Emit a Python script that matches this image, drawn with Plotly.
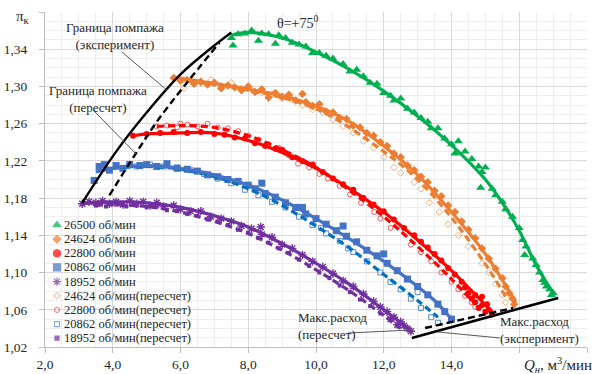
import plotly.graph_objects as go

# ---------------- data ----------------
# 26500 rpm, experiment
g_x = [7.5, 7.55, 7.7, 7.9, 8.1, 8.3, 8.4, 8.6, 8.8, 8.9, 9.1, 9.3, 9.5, 9.7, 9.9, 10.1, 10.3, 10.5, 10.8, 11.0,
       11.2, 11.4, 11.6, 11.8, 12.0, 12.2, 12.3, 12.5, 12.7, 12.9, 13.1, 13.3, 13.4, 13.6, 13.8, 14.0, 14.1, 14.2,
       14.4, 14.6, 14.8, 14.86, 14.9, 15.0, 15.2, 15.3, 15.5, 15.6, 15.8, 16.0, 16.1, 16.16, 16.2, 16.4, 16.5,
       16.6, 16.7, 16.8, 16.9, 16.95, 16.75, 17.0]
g_y = [1.352, 1.344, 1.356, 1.357, 1.360, 1.349, 1.357, 1.356, 1.346, 1.355, 1.352, 1.347, 1.345, 1.343, 1.336,
       1.336, 1.333, 1.330, 1.324, 1.316, 1.318, 1.311, 1.304, 1.303, 1.293, 1.290, 1.285, 1.287, 1.276, 1.272,
       1.266, 1.262, 1.255, 1.255, 1.244, 1.238, 1.228, 1.241, 1.230, 1.222, 1.214, 1.191, 1.208, 1.213, 1.190,
       1.183, 1.176, 1.168, 1.160, 1.148, 1.135, 1.119, 1.128, 1.115, 1.108, 1.100, 1.092, 1.085, 1.082, 1.076,
       1.089, 1.078]
g_fit_x = [7.5, 8.0, 9.0, 10.0, 11.0, 12.0, 13.0, 14.0, 15.0, 15.5, 16.0, 16.5, 17.0]
g_fit_y = [1.355, 1.358, 1.352, 1.337, 1.318, 1.295, 1.268, 1.237, 1.200, 1.175, 1.145, 1.108, 1.078]

# 24624 rpm, experiment
o_x = [5.8, 6.0, 6.2, 6.4, 6.6, 6.8, 7.0, 7.2, 7.4, 7.6, 7.8, 8.0, 8.2, 8.4, 8.6, 8.8, 9.0, 9.2, 9.4, 9.6, 9.7,
       9.9, 10.1, 10.3, 10.5, 10.7, 10.9, 11.1, 11.3, 11.5, 11.7, 11.9, 12.1, 12.3, 12.5, 12.7, 12.9, 13.1, 13.3,
       13.5, 13.7, 13.9, 14.1, 14.3, 14.5, 14.7, 14.9, 15.1, 15.3, 15.5, 15.6, 15.7, 15.8, 15.85]
o_y = [1.309, 1.306, 1.307, 1.303, 1.305, 1.302, 1.304, 1.298, 1.301, 1.299, 1.296, 1.300, 1.294, 1.297, 1.288,
       1.293, 1.289, 1.291, 1.285, 1.292, 1.283, 1.279, 1.281, 1.273, 1.272, 1.266, 1.265, 1.258, 1.256, 1.250,
       1.247, 1.240, 1.236, 1.228, 1.224, 1.215, 1.210, 1.203, 1.197, 1.188, 1.182, 1.172, 1.165, 1.155, 1.146,
       1.137, 1.126, 1.115, 1.104, 1.094, 1.085, 1.078, 1.072, 1.066]
o_fit_x = [5.8, 6.5, 7.0, 8.0, 9.0, 10.0, 11.0, 12.0, 13.0, 14.0, 15.0, 15.5, 15.9]
o_fit_y = [1.310, 1.306, 1.303, 1.297, 1.290, 1.279, 1.262, 1.236, 1.205, 1.165, 1.120, 1.092, 1.068]

# 24624 rpm, recalculated
or_x = [6.1, 6.3, 6.6, 6.9, 7.2, 7.5, 7.8, 8.1, 8.4, 8.7, 9.0, 9.3, 9.6, 9.9, 10.2, 10.5, 10.8, 11.1, 11.4,
        11.7, 12.0, 12.3, 12.5, 12.9, 13.1, 13.35, 13.64, 13.9, 14.2, 14.5, 14.9, 15.1, 15.3, 15.5, 15.6]
or_y = [1.298, 1.306, 1.304, 1.307, 1.301, 1.304, 1.298, 1.296, 1.293, 1.292, 1.287, 1.286, 1.280, 1.275, 1.272,
        1.264, 1.257, 1.250, 1.241, 1.234, 1.224, 1.213, 1.207, 1.197, 1.190, 1.175, 1.165, 1.152, 1.140, 1.128,
        1.110, 1.100, 1.088, 1.076, 1.068]
or_fit_x = [6.2, 8.0, 10.0, 12.0, 13.0, 14.0, 15.0, 15.6]
or_fit_y = [1.306, 1.296, 1.276, 1.230, 1.200, 1.159, 1.109, 1.074]

# 22800 rpm, experiment
r_x = [4.6, 5.0, 5.4, 5.8, 6.2, 6.6, 7.0, 7.3, 7.6, 7.9, 8.2, 8.5, 8.8, 9.0, 9.3, 9.6, 9.9, 10.2, 10.5, 10.8,
       11.1, 11.4, 11.7, 12.0, 12.3, 12.6, 12.9, 13.1, 13.3, 13.5, 13.7, 13.9, 14.1, 14.3, 14.4, 14.5, 14.6, 14.7,
       14.8, 14.9, 15.0, 15.1, 15.2, 14.9, 14.7, 15.05]
r_y = [1.247, 1.249, 1.250, 1.251, 1.250, 1.251, 1.249, 1.248, 1.245, 1.244, 1.239, 1.236, 1.233, 1.232, 1.224,
       1.220, 1.216, 1.208, 1.201, 1.195, 1.189, 1.180, 1.173, 1.166, 1.157, 1.148, 1.140, 1.133, 1.127, 1.120,
       1.113, 1.105, 1.098, 1.090, 1.084, 1.078, 1.072, 1.068, 1.062, 1.065, 1.058, 1.060, 1.055, 1.074, 1.076,
       1.066]
r_fit_x = [4.6, 5.0, 6.0, 7.0, 8.0, 9.0, 10.0, 11.0, 12.0, 13.0, 14.0, 14.6, 15.2]
r_fit_y = [1.247, 1.249, 1.250, 1.250, 1.242, 1.229, 1.212, 1.190, 1.165, 1.135, 1.102, 1.080, 1.058]

# 22800 rpm, recalculated
rr_x = [5.3, 5.6, 5.9, 6.0, 6.2, 6.5, 6.8, 7.1, 7.4, 7.7, 8.0, 8.3, 8.6, 8.9, 9.2, 9.47, 9.8, 10.1, 10.35, 10.7,
        11.0, 11.33, 11.72, 11.9, 12.2, 12.43, 12.8, 13.1, 13.4, 13.7, 14.0, 14.2, 14.4, 14.6, 14.7]
rr_y = [1.257, 1.258, 1.256, 1.260, 1.259, 1.257, 1.260, 1.256, 1.255, 1.252, 1.247, 1.243, 1.238, 1.234, 1.226,
        1.217, 1.213, 1.206, 1.201, 1.193, 1.184, 1.175, 1.165, 1.158, 1.148, 1.151, 1.130, 1.122, 1.112, 1.100,
        1.090, 1.082, 1.075, 1.068, 1.063]
rr_fit_x = [5.3, 6.0, 7.0, 8.0, 9.0, 10.0, 11.0, 12.0, 13.0, 14.0, 14.7]
rr_fit_y = [1.257, 1.258, 1.256, 1.247, 1.232, 1.213, 1.188, 1.160, 1.128, 1.093, 1.066]

# 20862 rpm, experiment
b_x = [3.45, 3.6, 3.75, 3.9, 4.1, 4.3, 4.5, 4.8, 5.0, 5.3, 5.6, 5.9, 6.2, 6.5, 6.8, 7.1, 7.4, 7.7, 8.0, 8.2,
       8.4, 8.5, 8.8, 9.1, 9.4, 9.6, 9.7, 10.0, 10.3, 10.6, 10.8, 10.9, 11.2, 11.5, 11.8, 12.0, 12.1, 12.4, 12.7,
       13.0, 13.3, 13.6, 13.8, 14.0]
b_y = [1.199, 1.214, 1.216, 1.210, 1.215, 1.212, 1.216, 1.215, 1.216, 1.214, 1.217, 1.212, 1.211, 1.209, 1.205,
       1.203, 1.200, 1.198, 1.194, 1.190, 1.196, 1.185, 1.181, 1.175, 1.170, 1.170, 1.163, 1.158, 1.152, 1.145,
       1.150, 1.139, 1.133, 1.124, 1.118, 1.120, 1.110, 1.102, 1.093, 1.085, 1.076, 1.066, 1.058, 1.050]
b_fit_x = [3.5, 4.0, 5.0, 6.0, 7.0, 8.0, 9.0, 10.0, 11.0, 12.0, 13.0, 13.5, 14.0]
b_fit_y = [1.208, 1.212, 1.215, 1.212, 1.205, 1.194, 1.178, 1.158, 1.136, 1.112, 1.085, 1.070, 1.050]

# 20862 rpm, recalculated
br_x = [4.3, 4.7, 5.1, 5.5, 5.9, 6.3, 6.7, 7.1, 7.5, 7.9, 8.3, 8.7, 9.1, 9.5, 9.9, 10.15, 10.3, 10.7, 10.95,
        11.1, 11.5, 11.9, 12.2, 12.5, 12.8, 13.0, 13.1, 13.4, 13.6]
br_y = [1.212, 1.214, 1.216, 1.214, 1.213, 1.210, 1.206, 1.201, 1.196, 1.189, 1.183, 1.176, 1.170, 1.160, 1.151,
        1.148, 1.142, 1.134, 1.126, 1.122, 1.112, 1.100, 1.090, 1.082, 1.072, 1.079, 1.062, 1.052, 1.046]
br_fit_x = [4.0, 5.0, 6.0, 7.0, 8.0, 9.0, 10.0, 11.0, 12.0, 13.0, 13.6]
br_fit_y = [1.212, 1.214, 1.211, 1.203, 1.190, 1.172, 1.150, 1.126, 1.098, 1.070, 1.052]

# 18952 rpm, experiment
p_x = [3.1, 3.3, 3.5, 3.7, 3.9, 4.1, 4.3, 4.5, 4.7, 4.9, 5.1, 5.3, 5.5, 5.8, 6.0, 6.3, 6.6, 6.9, 7.2, 7.5, 7.8,
       8.1, 8.37, 8.4, 8.7, 9.0, 9.3, 9.6, 9.9, 10.2, 10.5, 10.8, 11.1, 11.4, 11.7, 11.9, 12.1, 12.2, 12.3, 12.4,
       12.5, 12.6, 12.7, 12.8]
p_y = [1.174, 1.176, 1.175, 1.177, 1.174, 1.176, 1.173, 1.177, 1.174, 1.176, 1.172, 1.175, 1.171, 1.172, 1.168,
       1.166, 1.166, 1.160, 1.158, 1.155, 1.150, 1.147, 1.149, 1.141, 1.138, 1.130, 1.126, 1.119, 1.112, 1.106,
       1.099, 1.091, 1.085, 1.077, 1.069, 1.063, 1.058, 1.050, 1.052, 1.044, 1.047, 1.043, 1.040, 1.037]
p_fit_x = [3.1, 4.0, 5.0, 6.0, 7.0, 8.0, 9.0, 10.0, 11.0, 12.0, 12.8]
p_fit_y = [1.174, 1.176, 1.175, 1.170, 1.161, 1.149, 1.131, 1.110, 1.087, 1.060, 1.038]

# 18952 rpm, recalculated
pr_x = [3.5, 3.8, 4.1, 4.4, 4.7, 5.0, 5.3, 5.6, 5.9, 6.2, 6.5, 6.8, 7.1, 7.4, 7.7, 8.0, 8.3, 8.6, 8.9, 9.2, 9.5,
        9.8, 10.1, 10.4, 10.7, 11.0, 11.3, 11.6, 11.9, 12.2, 12.4]
pr_y = [1.172, 1.171, 1.173, 1.171, 1.172, 1.170, 1.171, 1.167, 1.166, 1.163, 1.161, 1.157, 1.155, 1.151, 1.146,
        1.143, 1.137, 1.132, 1.126, 1.121, 1.114, 1.107, 1.100, 1.094, 1.086, 1.079, 1.071, 1.064, 1.056, 1.049,
        1.043]
pr_fit_x = [3.5, 4.0, 5.0, 6.0, 7.0, 8.0, 9.0, 10.0, 11.0, 12.0, 12.5]
pr_fit_y = [1.172, 1.173, 1.171, 1.165, 1.155, 1.142, 1.124, 1.103, 1.080, 1.054, 1.040]

# boundaries
surge_exp_x = [3.1, 4.1, 5.0, 6.0, 7.0, 7.5]
surge_exp_y = [1.175, 1.230, 1.272, 1.313, 1.344, 1.358]
surge_rec_x = [3.9, 4.7, 5.3, 6.1, 7.15]
surge_rec_y = [1.183, 1.229, 1.262, 1.300, 1.347]
maxf_exp_x = [12.83, 17.15]
maxf_exp_y = [1.0297, 1.0727]
maxf_rec_x = [13.22, 15.82]
maxf_rec_y = [1.0404, 1.062]

legend_labels = ["26500 об/мин", "24624 об/мин", "22800 об/мин", "20862 об/мин", "18952 об/мин",
                 "24624 об/мин(пересчет)", "22800 об/мин(пересчет)", "20862 об/мин(пересчет)",
                 "18952 об/мин(пересчет)"]

x_ticks = [2, 4, 6, 8, 10, 12, 14, 16, 18]
x_ticktext = ["2,0", "4,0", "6,0", "8,0", "10,0", "12,0", "14,0", " ", " "]
y_ticks = [1.02, 1.06, 1.10, 1.14, 1.18, 1.22, 1.26, 1.30, 1.34, 1.38]
y_ticktext = ["1,02", "1,06", "1,10", "1,14", "1,18", "1,22", "1,26", "1,30", "1,34", " "]

# ---------------- styles ----------------
GREEN, ORANGE, RED, BLUE, PURPLE = "#00b050", "#ed7d31", "#ff0000", "#4472c4", "#7030a0"
ORANGE_L, RED_L, BLUE_L = "#f4b183", "#f05a5a", "#5b8bd0"
BLUE_D = "#0070c0"
FONT = "Times New Roman, Liberation Serif, serif"
TXT = "#262626"

fig = go.Figure()

def pts(x, y, symbol, color, size, lw=0.0):
    fig.add_trace(go.Scatter(x=x, y=y, mode="markers", showlegend=False, hoverinfo="skip",
                             marker=dict(symbol=symbol, color=color, size=size,
                                         line=dict(width=lw, color=color))))

def fit(x, y, color, dash="solid", width=3.2):
    fig.add_trace(go.Scatter(x=x, y=y, mode="lines", showlegend=False, hoverinfo="skip",
                             line=dict(color=color, width=width, dash=dash, shape="spline", smoothing=1.0)))

# markers
pts(pr_x, pr_y, "square", PURPLE, 4)
pts(p_x, p_y, "asterisk-open", PURPLE, 7, 1.4)
pts(br_x, br_y, "square-open", BLUE_L, 5, 1)
pts(b_x, b_y, "square", BLUE, 7)
pts(rr_x, rr_y, "circle-open", RED_L, 5, 1)
pts(r_x, r_y, "circle", RED, 6)
pts(or_x, or_y, "diamond-open", ORANGE_L, 5, 1)
pts(o_x, o_y, "diamond", ORANGE, 6.5)
pts(g_x, g_y, "triangle-up", GREEN, 8)

# trend lines
fit(pr_fit_x, pr_fit_y, PURPLE, "7px,4px")
fit(p_fit_x, p_fit_y, PURPLE)
fit(br_fit_x, br_fit_y, BLUE_D, "7px,4px")
fit(b_fit_x, b_fit_y, BLUE)
fit(rr_fit_x, rr_fit_y, RED, "7px,4px")
fit(r_fit_x, r_fit_y, RED)
fit(or_fit_x, or_fit_y, ORANGE, "7px,4px")
fit(o_fit_x, o_fit_y, ORANGE)
fit(g_fit_x, g_fit_y, GREEN)

# boundary lines
fit(surge_exp_x, surge_exp_y, "black", "solid", 2.4)
fit(surge_rec_x, surge_rec_y, "black", "7px,4px", 2.4)
fit(maxf_exp_x, maxf_exp_y, "black", "solid", 2.6)
fit(maxf_rec_x, maxf_rec_y, "black", "7px,4px", 2.4)

# ---------------- manual legend (compact, like the original) ----------------
PLOT_L, PLOT_T, PLOT_W, PLOT_H = 45, 12, 542, 335
def fx(px):
    return (px - PLOT_L) / PLOT_W
def fy(py):
    return (PLOT_T + PLOT_H - py) / PLOT_H

leg_rows = [225 + 14.15 * i for i in range(len(legend_labels))]
leg_sym = ["triangle-up", "diamond", "circle", "square", "asterisk-open",
           "diamond-open", "circle-open", "square-open", "square"]
leg_col = [GREEN, ORANGE, RED, BLUE, PURPLE, ORANGE_L, RED_L, BLUE_L, PURPLE]
leg_size = [7, 6, 7, 7, 7, 5, 5, 5, 4]
fig.add_trace(go.Scatter(x=[fx(57)] * len(leg_rows), y=[fy(r) for r in leg_rows], mode="markers",
                         xaxis="x2", yaxis="y2", showlegend=False, hoverinfo="skip",
                         marker=dict(symbol=leg_sym, color=leg_col, size=leg_size,
                                     line=dict(width=1.2, color=leg_col))))

shapes = [dict(type="rect", xref="paper", yref="paper", x0=fx(46), x1=fx(168), y0=fy(346), y1=fy(215),
               fillcolor="white", line=dict(width=0), layer="between")]

annotations = []
for lab, r in zip(legend_labels, leg_rows):
    annotations.append(dict(xref="paper", yref="paper", x=fx(62), y=fy(r), text=lab, showarrow=False,
                            xanchor="left", yanchor="middle", font=dict(family=FONT, size=12.5, color=TXT)))

# text annotations
ann_font = dict(family=FONT, size=13, color=TXT)
annotations += [
    dict(x=4.07, y=1.354, text="Граница помпажа<br>(эксперимент)", showarrow=False, font=ann_font,
         xanchor="center", yanchor="middle"),
    dict(x=3.56, y=1.2865, text="Граница помпажа<br>(пересчет)", showarrow=False, font=ann_font,
         xanchor="center", yanchor="middle"),
    dict(x=9.47, y=1.369, text="θ=+75<sup>0</sup>", showarrow=False, xanchor="center", yanchor="middle",
         font=dict(family=FONT, size=14, color=TXT)),
    dict(x=9.40, y=1.0426, text="Макс.расход<br>(пересчет)", showarrow=False, xanchor="left", align="left",
         yanchor="middle", font=ann_font),
    dict(x=15.38, y=1.0388, text="Макс.расход<br>(эксперимент)", showarrow=False, xanchor="left", align="left",
         yanchor="middle", font=ann_font),
    dict(xref="paper", yref="paper", x=fx(23), y=fy(17), text="π<sub>к</sub>", showarrow=False,
         xanchor="center", yanchor="middle", font=dict(family=FONT, size=15, color=TXT)),
    dict(xref="paper", yref="paper", x=fx(558), y=fy(365), text="<i>Q<sub>н</sub></i>, м<sup>3</sup>/мин",
         showarrow=False, xanchor="center", yanchor="middle", font=dict(family=FONT, size=15, color=TXT)),
]

leader = dict(color="#595959", width=1)
shapes += [
    dict(type="line", x0=4.27, y0=1.337, x1=5.60, y1=1.296, line=leader),
    dict(type="line", x0=3.42, y0=1.2747, x1=4.72, y1=1.2263, line=leader),
    dict(type="line", x0=10.94, y0=1.035, x1=12.83, y1=1.0383, line=leader),
    dict(type="line", x0=15.43, y0=1.0297, x1=13.60, y1=1.0361, line=leader),
]

axis_common = dict(showline=True, linecolor="#bfbfbf", linewidth=1, ticks="outside", ticklen=5,
                   tickcolor="#bfbfbf", showgrid=True, gridcolor="#d9d9d9", gridwidth=1, zeroline=False,
                   tickfont=dict(family=FONT, size=13.5, color=TXT), fixedrange=True, automargin=False)

fig.update_layout(
    template="none",
    width=598, height=374,
    margin=dict(l=PLOT_L, r=598 - PLOT_L - PLOT_W, t=PLOT_T, b=374 - PLOT_T - PLOT_H, autoexpand=False),
    paper_bgcolor="white", plot_bgcolor="white",
    showlegend=False,
    font=dict(family=FONT, color=TXT),
    xaxis=dict(range=[2, 18], tickmode="array", tickvals=x_ticks, ticktext=x_ticktext,
               ticklabelstandoff=0,
               minor=dict(dtick=0.5, tick0=2, showgrid=True, gridcolor="#eeeeee", ticks=""),
               **axis_common),
    yaxis=dict(range=[1.02, 1.38], tickmode="array", tickvals=y_ticks, ticktext=y_ticktext,
               ticklabelstandoff=9,
               minor=dict(dtick=0.01, tick0=1.02, showgrid=True, gridcolor="#eeeeee", ticks=""),
               **axis_common),
    xaxis2=dict(overlaying="x", anchor="y2", range=[0, 1], visible=False, fixedrange=True),
    yaxis2=dict(overlaying="y", anchor="x2", range=[0, 1], visible=False, fixedrange=True),
    shapes=shapes,
    annotations=annotations,
)

fig.write_html("out.html")
